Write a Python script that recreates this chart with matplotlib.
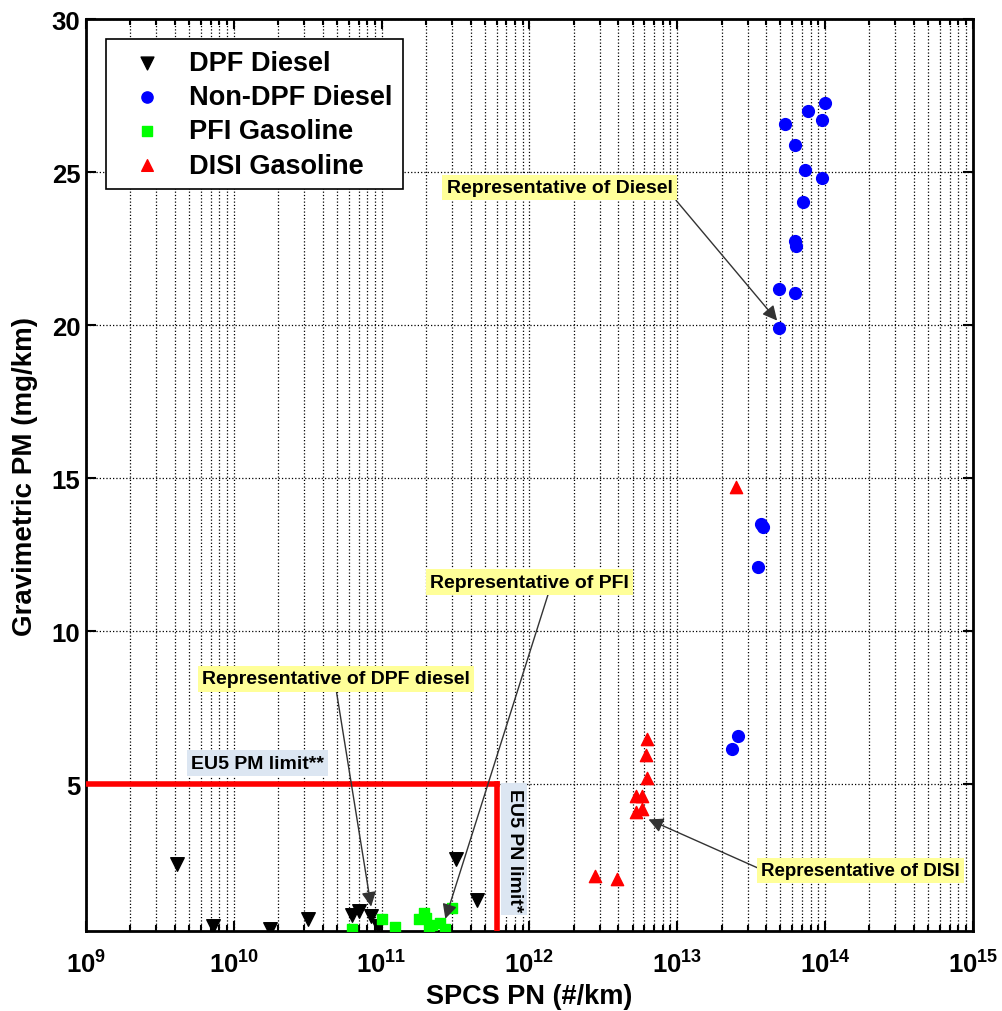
import matplotlib
matplotlib.use("Agg")
import matplotlib.pyplot as plt
import numpy as np
from matplotlib.ticker import LogLocator, NullFormatter, FixedLocator

plt.rcParams['font.family'] = ['Liberation Sans', 'DejaVu Sans']
plt.rcParams['font.weight'] = 'bold'
plt.rcParams['mathtext.fontset'] = 'custom'
plt.rcParams['mathtext.rm'] = 'Liberation Sans:bold'
plt.rcParams['mathtext.bf'] = 'Liberation Sans:bold'
plt.rcParams['mathtext.it'] = 'Liberation Sans:bold'

# ---- data ----
dpf_x = [4.1e9, 7.2e9, 1.76e10, 3.2e10, 6.3e10, 7.0e10, 8.5e10, 9.4e10, 3.2e11, 4.4e11]
dpf_y = [2.38, 0.35, 0.28, 0.61, 0.74, 0.87, 0.70, 0.36, 2.56, 1.20]

nondpf_x = [1.0e14, 7.7e13, 5.4e13, 9.5e13, 6.3e13, 7.3e13, 9.6e13, 7.1e13, 6.3e13, 6.4e13,
            4.9e13, 6.3e13, 4.9e13, 3.7e13, 3.8e13, 3.5e13, 2.6e13, 2.35e13]
nondpf_y = [27.25, 27.0, 26.56, 26.72, 25.9, 25.08, 24.8, 24.04, 22.75, 22.6,
            21.19, 21.05, 19.9, 13.5, 13.4, 12.1, 6.57, 6.15]

pfi_x = [6.3e10, 1.0e11, 1.23e11, 2.0e11, 1.8e11, 2.1e11, 2.5e11, 2.7e11, 3.0e11, 1.95e11, 2.2e11]
pfi_y = [0.26, 0.59, 0.33, 0.62, 0.59, 0.30, 0.46, 0.26, 0.95, 0.78, 0.40]

disi_x = [2.5e13, 6.3e12, 6.2e12, 6.3e12, 5.3e12, 5.8e12, 5.3e12, 5.8e12, 2.8e12, 3.9e12]
disi_y = [14.7, 6.47, 5.95, 5.2, 4.6, 4.63, 4.1, 4.2, 2.0, 1.89]

pm_limit = 5.0
pn_limit = 6.0e11

xtick_vals = [1e9, 1e10, 1e11, 1e12, 1e13, 1e14, 1e15]
xtick_labels = [r'$10^{9}$', r'$10^{10}$', r'$10^{11}$', r'$10^{12}$', r'$10^{13}$', r'$10^{14}$', r'$10^{15}$']
ytick_vals = [5, 10, 15, 20, 25, 30]

fig = plt.figure(figsize=(10.02, 10.12), dpi=100)
ax = fig.add_axes([0.0858, 0.079, 0.885, 0.901])
ax.set_xscale('log')
ax.set_xlim(1e9, 1e15)
ax.set_ylim(0.2, 30)

ax.xaxis.set_major_locator(FixedLocator(xtick_vals))
ax.set_xticklabels(xtick_labels)
ax.xaxis.set_minor_locator(LogLocator(base=10, subs=np.arange(2, 10), numticks=100))
ax.xaxis.set_minor_formatter(NullFormatter())
ax.set_yticks(ytick_vals)
ax.set_yticklabels([str(v) for v in ytick_vals])

ax.grid(True, which='major', axis='both', linestyle=':', color='black', linewidth=0.9)
ax.grid(True, which='minor', axis='x', linestyle=':', color='black', linewidth=0.9)
ax.set_axisbelow(True)

ax.tick_params(axis='both', which='both', direction='in', top=True, right=True, width=1.5)
ax.tick_params(axis='both', which='major', length=7, labelsize=18.5)
ax.tick_params(axis='y', which='major', pad=4)
ax.tick_params(axis='x', which='major', pad=14)
ax.tick_params(axis='x', which='minor', length=4)
for s in ax.spines.values():
    s.set_linewidth(2)

# limit lines
ax.plot([1e9, pn_limit], [pm_limit, pm_limit], color='red', linewidth=4, zorder=5)
ax.plot([pn_limit, pn_limit], [0.2, pm_limit], color='red', linewidth=4, zorder=5)

ax.scatter(dpf_x, dpf_y, marker='v', s=95, color='black', zorder=4, label='DPF Diesel')
ax.scatter(nondpf_x, nondpf_y, marker='o', s=72, color='#0000ff', zorder=4, label='Non-DPF Diesel')
ax.scatter(pfi_x, pfi_y, marker='s', s=58, color='#00ff00', zorder=4, label='PFI Gasoline')
ax.scatter(disi_x, disi_y, marker='^', s=78, color='#ff0000', zorder=4, label='DISI Gasoline')

leg = ax.legend(loc='upper left', bbox_to_anchor=(0.0225, 0.978), borderaxespad=0,
                fontsize=19.5, frameon=True, fancybox=False, edgecolor='black',
                borderpad=0.4, labelspacing=0.3, handlelength=2.2, handletextpad=0.45,
                markerscale=0.95, framealpha=1)
leg.get_frame().set_linewidth(1.2)

ax.set_xlabel('SPCS PN (#/km)', fontsize=19.5, fontweight='bold', labelpad=4)
ax.set_ylabel('Gravimetric PM (mg/km)', fontsize=20, fontweight='bold')
ax.yaxis.set_label_coords(-0.054, 0.5)

yellow = dict(boxstyle='square,pad=0.22', facecolor='#ffff99', edgecolor='none')
blue = dict(boxstyle='square,pad=0.22', facecolor='#dce6f2', edgecolor='none')
arrow = dict(arrowstyle='-|>', color='#333333', lw=1.0, mutation_scale=22, shrinkA=0, shrinkB=0)
afs = 14

ax.annotate('Representative of Diesel', xy=(4.75e13, 20.15), xytext=(1.6e12, 24.5),
            fontsize=afs, fontweight='bold', ha='center', va='center', bbox=yellow,
            arrowprops=dict(arrow, relpos=(1.0, 0.0)), zorder=6)
ax.annotate('Representative of PFI', xy=(2.7e11, 0.6), xytext=(1.0e12, 11.6),
            fontsize=afs, fontweight='bold', ha='center', va='center', bbox=yellow,
            arrowprops=dict(arrow, relpos=(0.6, 0.0)), zorder=6)
ax.annotate('Representative of DPF diesel', xy=(8.5e10, 1.0), xytext=(4.9e10, 8.44),
            fontsize=afs, fontweight='bold', ha='center', va='center', bbox=yellow,
            arrowprops=dict(arrow, relpos=(0.5, 0.0)), zorder=6)
ax.annotate('Representative of DISI', xy=(6.4e12, 3.85), xytext=(1.75e14, 2.18),
            fontsize=13.5, fontweight='bold', ha='center', va='center', bbox=yellow,
            arrowprops=dict(arrow, relpos=(0.0, 0.55)), zorder=6)

ax.text(1.45e10, 5.69, 'EU5 PM limit**', fontsize=afs, fontweight='bold', ha='center', va='center',
        bbox=blue, zorder=3)
ax.text(7.9e11, 2.87, 'EU5 PN limit*', fontsize=afs, fontweight='bold', ha='center', va='center',
        rotation=-90, bbox=blue, zorder=3)

fig.savefig('out.png', dpi=100)
